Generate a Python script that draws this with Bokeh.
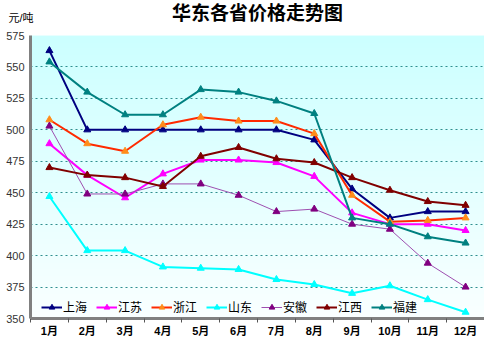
import numpy as np
from bokeh.plotting import figure
from bokeh.models import (Range1d, FixedTicker, Legend, LegendItem, Label, ColumnDataSource)
from bokeh.embed import file_html
from bokeh.resources import INLINE

months = ["1月", "2月", "3月", "4月", "5月", "6月", "7月", "8月", "9月", "10月", "11月", "12月"]
y_ticks = [350, 375, 400, 425, 450, 475, 500, 525, 550, 575]

shanghai = [563, 500, 500, 500, 500, 500, 500, 492, 453, 430, 435, 435]
jiangsu = [489, 464, 446, 465, 476, 476, 474, 463, 434, 425, 425, 420]
zhejiang = [508, 489, 483, 504, 510, 507, 507, 497, 448, 427, 428, 430]
shandong = [447, 404, 404, 391, 390, 389, 381, 377, 370, 376, 365, 355]
anhui = [503, 449, 449, 457, 457, 448, 435, 437, 425, 421, 394, 375]
jiangxi = [470, 464, 462, 455, 479, 486, 477, 474, 462, 452, 443, 440]
fujian = [554, 530, 512, 512, 532, 530, 523, 513, 430, 425, 415, 410]

series = [
    ("上海", shanghai, "#000080", "#000080", 2),
    ("江苏", jiangsu, "#ff00ff", "#ff00ff", 2),
    ("浙江", zhejiang, "#ff2a00", "#ff8c1a", 2),
    ("山东", shandong, "#00ffff", "#00ffff", 2),
    ("安徽", anhui, "#9e4fb0", "#800080", 1),
    ("江西", jiangxi, "#800000", "#800000", 2),
    ("福建", fujian, "#008080", "#008080", 2),
]

xs = list(range(1, len(months) + 1))
CJK = "'Liberation Sans', 'Noto Sans CJK SC'"

p = figure(width=484, height=339, output_backend="svg", toolbar_location=None,
           x_range=Range1d(0.5, 12.5), y_range=Range1d(350, 575),
           min_border_left=30, min_border_right=0, min_border_top=31, min_border_bottom=14)

p.title.text = "华东各省价格走势图"
p.title.align = "center"
p.title.offset = -8
p.title.text_font = CJK
p.title.text_font_size = "19px"
p.title.text_font_style = "bold"
p.title.text_color = "#000000"
p.title.standoff = 0

p.outline_line_color = None
p.background_fill_color = "#e6ffff"

n = 300
grad = np.zeros((n, 1), dtype=np.uint32)
view = grad.view(dtype=np.uint8).reshape((n, 1, 4))
for i in range(n):
    t = i / (n - 1)
    view[i, 0, 0] = int(250 - (250 - 204) * t)
    view[i, 0, 1] = 255
    view[i, 0, 2] = 255
    view[i, 0, 3] = 255
p.image_rgba(image=[grad], x=0.5, y=350, dw=12, dh=225, level="image")

p.xgrid.visible = False
p.ygrid.ticker = FixedTicker(ticks=y_ticks[1:-1])
p.ygrid.grid_line_color = "#2f8f8f"
p.ygrid.grid_line_dash = "2 3"
p.ygrid.grid_line_width = 1

p.yaxis.ticker = FixedTicker(ticks=y_ticks)
p.yaxis.axis_line_color = "#808080"
p.yaxis.axis_line_width = 3
p.yaxis.major_tick_out = 0
p.yaxis.major_tick_in = 0
p.yaxis.minor_tick_out = 0
p.yaxis.minor_tick_in = 0
p.yaxis.major_label_standoff = 6
p.yaxis.major_label_text_font = "Liberation Sans"
p.yaxis.major_label_text_font_size = "11px"
p.yaxis.major_label_text_color = "#333333"

p.xaxis.ticker = FixedTicker(ticks=xs, minor_ticks=[x - 0.5 for x in xs] + [12.5])
p.xaxis.major_label_overrides = {x: m for x, m in zip(xs, months)}
p.xaxis.axis_line_color = "#808080"
p.xaxis.axis_line_width = 3
p.xaxis.major_tick_out = 0
p.xaxis.major_tick_in = 0
p.xaxis.minor_tick_out = 4
p.xaxis.minor_tick_in = 0
p.xaxis.minor_tick_line_color = "#555555"
p.xaxis.major_label_standoff = 2
p.xaxis.major_label_text_font = CJK
p.xaxis.major_label_text_font_size = "11px"
p.xaxis.major_label_text_font_style = "bold"
p.xaxis.major_label_text_color = "#000000"

items = []
for name, vals, lc, mc, lw in series:
    src = ColumnDataSource(dict(x=xs, y=vals))
    r1 = p.line("x", "y", source=src, line_color=lc, line_width=lw)
    r2 = p.scatter("x", "y", source=src, marker="triangle", size=7,
                   fill_color=mc, line_color=mc)
    items.append(LegendItem(label=name, renderers=[r1, r2]))

legend = Legend(items=items, orientation="horizontal", location=(11, 3),
                glyph_width=21, glyph_height=14, label_height=14,
                label_standoff=1, spacing=9, padding=0, margin=0,
                border_line_color=None, background_fill_alpha=0,
                label_text_font="Noto Sans CJK SC", label_text_font_size="12px",
                label_text_color="#000000")
p.add_layout(legend, "center")

unit = Label(x=-22, y=12, x_units="screen", y_units="screen", text="元/吨",
             text_baseline="bottom", text_align="left",
             text_font=CJK, text_font_size="11px", text_color="#000000")
p.add_layout(unit, "above")

open("out.html", "w").write(file_html(p, INLINE))
